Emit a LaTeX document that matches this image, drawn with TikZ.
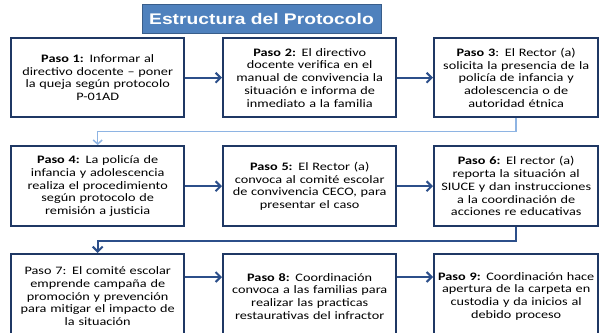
\documentclass[tikz,border=0pt]{standalone}
\usepackage{fontspec}
\setmainfont{Carlito}[FakeStretch=1.25]
\newfontfamily\titlefont{Liberation Sans}[FakeStretch=1.25]
\usetikzlibrary{arrows.meta}
\definecolor{boxc}{HTML}{1F3864}
\definecolor{arrc}{HTML}{2C4F8A}
\definecolor{lightc}{HTML}{8EB4E3}
\definecolor{titlefill}{HTML}{4F81BD}
\definecolor{titledraw}{HTML}{385D8A}
\begin{document}
\begin{tikzpicture}[x=1pt,y=-1pt,
  stepbox/.style={draw=boxc, line width=2.4pt, fill=white, align=center,
    font=\fontsize{11.4}{12.7}\selectfont, inner sep=0pt, anchor=north west},
  wide/.style={minimum width=173pt, text width=171pt},
  narrow/.style={minimum width=164pt, text width=162pt},
  arr/.style={draw=arrc, line width=2pt, -{Straight Barb[length=5pt,width=10pt]}},
  conna/.style={draw=lightc, line width=1.5pt, -{Straight Barb[length=4pt,width=9pt]}},
  connb/.style={draw=arrc, line width=2pt, -{Straight Barb[length=5pt,width=10pt]}}
]
\useasboundingbox (0,0) rectangle (599,332);
\clip (0,0) rectangle (599,332);

\node[fill=titlefill, draw=titledraw, line width=1pt, minimum width=239pt, minimum height=29pt,
  text=white, font=\titlefont\bfseries\fontsize{15.4}{17}\selectfont, inner sep=0pt] (title) at (261.5,18.5) {Estructura del Protocolo};

% row 1
\node[stepbox, wide, minimum height=79pt] (p1) at (10,37)
  {\textbf{Paso 1:} Informar al\\directivo docente – poner\\la queja según protocolo\\P-01AD};
\node[stepbox, wide, minimum height=79pt] (p2) at (222,37)
  {\textbf{Paso 2:} El directivo\\docente verifica en el\\manual de convivencia la\\situación e informa de\\inmediato a la familia};
\node[stepbox, narrow, minimum height=79pt] (p3) at (433,37)
  {\textbf{Paso 3}: El Rector (a)\\solicita la presencia de la\\policía de infancia y\\adolescencia o de\\autoridad étnica};

% row 2
\node[stepbox, wide, minimum height=80pt] (p4) at (10,145)
  {\textbf{Paso 4:} La policía de\\infancia y adolescencia\\realiza el procedimiento\\según protocolo de\\remisión a justicia};
\node[stepbox, wide, minimum height=80pt] (p5) at (222,145)
  {\textbf{Paso 5:} El Rector (a)\\convoca al comité escolar\\de convivencia CECO, para\\presentar el caso};
\node[stepbox, narrow, minimum height=80pt] (p6) at (433,145)
  {\textbf{Paso 6:} El rector (a)\\reporta la situación al\\SIUCE y dan instrucciones\\a la coordinación de\\acciones re educativas};

% row 3
\node[stepbox, wide, minimum height=84pt] (p7) at (10,253)
  {Paso 7: El comité escolar\\emprende campaña de\\promoción y prevención\\para mitigar el impacto de\\la situación};
\node[stepbox, wide, minimum height=84pt] (p8) at (222,253)
  {\textbf{Paso 8:} Coordinación\\convoca a las familias para\\realizar las practicas\\restaurativas del infractor};
\node[stepbox, narrow, minimum height=84pt] (p9) at (433,253)
  {\textbf{Paso 9:} Coordinación hace\\apertura de la carpeta en\\custodia y da inicios al\\debido proceso};

% arrows
\draw[arr] (p1.east) -- (p2.west);
\draw[arr] (p2.east) -- (p3.west);
\draw[arr] (p4.east) -- (p5.west);
\draw[arr] (p5.east) -- (p6.west);
\draw[arr] ([yshift=-24pt]p7.north east) -- ([yshift=-24pt]p8.north west);
\draw[arr] ([yshift=-24pt]p8.north east) -- ([yshift=-24pt]p9.north west);

\draw[conna] (p3.south) -- ++(0,13) -| (p4.north);
\draw[connb] (p6.south) -- ++(0,14) -| (p7.north);
\end{tikzpicture}
\end{document}
